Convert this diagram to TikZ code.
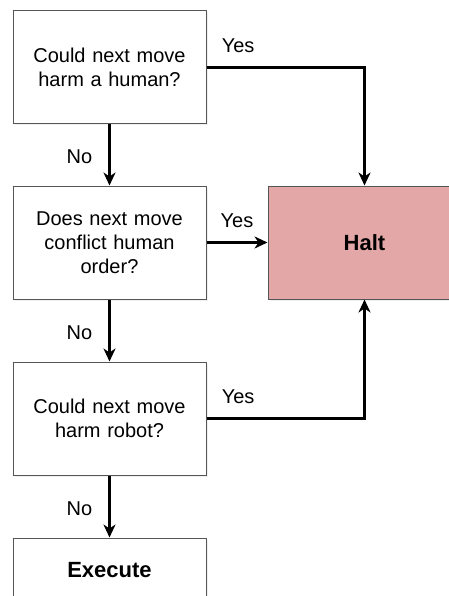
\documentclass[tikz,border=0pt]{standalone}
\usepackage{fontspec}
\setmainfont{Liberation Sans}
\usetikzlibrary{shapes, arrows.meta, positioning, shadows}
\definecolor{HaltRed}{HTML}{E3A7A7}
\definecolor{BoxLine}{HTML}{555555}

\begin{document}
\begin{tikzpicture} [x=1pt, y=1pt,
			every node/.style={font=\fontsize{20}{24}\selectfont, align=center},
			question/.style={draw=BoxLine, line width=1pt, rectangle, fill=white, text width=180pt, minimum width=193pt, minimum height=113pt, drop shadow={opacity=0.12, shadow xshift=1.5pt, shadow yshift=-1.5pt}},
			outcome/.style={question, font=\fontsize{22}{26}\selectfont\bfseries},
			legend/.style={draw=none, fill=none, inner sep=2pt},
			flow/.style={line width=2.6pt, -{Stealth[length=13pt, width=12pt, inset=4pt]}}
		]
			\path[use as bounding box, clip] (0,0) rectangle (449,-596);
			\node at (109.5,-67.5) [question] (nodeHuman) {Could next move\\harm a human?};
			\node at (109.5,-242.5) [question] (nodeOrder) {Does next move\\conflict human\\order?};
			\node at (109.5,-418.5) [question] (nodeRobot) {Could next move\\harm robot?};
			\node at (109.5,-570) [outcome, minimum height=64pt] (nodeExecute) {Execute};
			\node at (364.5,-242.5) [outcome, fill=HaltRed] (nodeHalt) {Halt};
			\draw[flow] (nodeHuman) -- node [legend, left=14pt, yshift=-2pt] {No} (nodeOrder);
			\draw[flow] (nodeOrder) -- node [legend, left=14pt, yshift=-2pt] {No} (nodeRobot);
			\draw[flow] (nodeRobot) -- node [legend, left=14pt, yshift=-2pt] {No} (nodeExecute);
			\draw[flow] (nodeHuman.east) -| node [legend, above=12pt, pos=0.1] {Yes} (nodeHalt.north);
			\draw[flow] (nodeOrder.east) -- node [legend, above=12pt, pos=0.5] {Yes} (nodeHalt.west);
			\draw[flow] (nodeRobot.east) -| node [legend, above=12pt, pos=0.1] {Yes} (nodeHalt.south);
		\end{tikzpicture}
\end{document}
